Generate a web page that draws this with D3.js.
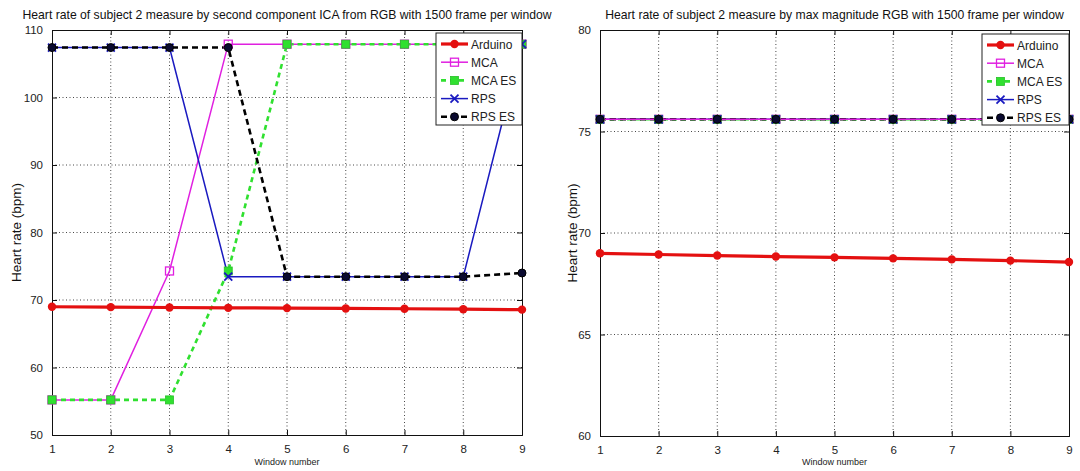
<!DOCTYPE html>
<html>
<head>
<meta charset="utf-8">
<script src="https://cdn.jsdelivr.net/npm/d3@7"></script>
<style>
  html, body { margin: 0; padding: 0; background: #fff; }
  svg { display: block; font-family: "Liberation Sans", Arial, sans-serif; }
</style>
</head>
<body>
<svg id="chart" width="1080" height="471"></svg>
<script>
// Window indices (x axis)
const windows = [1, 2, 3, 4, 5, 6, 7, 8, 9];

// Reference heart rate from the Arduino sensor (same for both panels)
const arduinoHR = [69.0, 68.94, 68.89, 68.84, 68.80, 68.75, 68.70, 68.64, 68.57];

// Panel 1: second component ICA
const icaMCA   = [55.2, 55.2, 74.3, 107.9, 107.9, 107.9, 107.9, 107.9, 107.9];
const icaMCAES = [55.2, 55.2, 55.2, 74.3, 107.9, 107.9, 107.9, 107.9, 107.9];
const icaRPS   = [107.4, 107.4, 107.4, 73.45, 73.45, 73.45, 73.45, 73.45, 107.9];
const icaRPSES = [107.4, 107.4, 107.4, 107.4, 73.45, 73.45, 73.45, 73.45, 74.0];

// Panel 2: max magnitude RGB
const magMCA   = [75.6, 75.6, 75.6, 75.6, 75.6, 75.6, 75.6, 75.6, 75.6];
const magMCAES = [75.6, 75.6, 75.6, 75.6, 75.6, 75.6, 75.6, 75.6, 75.6];
const magRPS   = [75.6, 75.6, 75.6, 75.6, 75.6, 75.6, 75.6, 75.6, 75.6];
const magRPSES = [75.6, 75.6, 75.6, 75.6, 75.6, 75.6, 75.6, 75.6, 75.6];

// Tick values
const icaYTicks = [50, 60, 70, 80, 90, 100, 110];
const magYTicks = [60, 65, 70, 75, 80];

const seriesNames = ["Arduino", "MCA", "MCA ES", "RPS", "RPS ES"];

// Styles per series
const styles = {
  "Arduino": { color: "#e41010", width: 3.2, dash: null, marker: "dot", mcolor: "#e41010" },
  "MCA":     { color: "#e020e0", width: 1.5, dash: null, marker: "osquare", mcolor: "#e020e0" },
  "MCA ES":  { color: "#30e030", width: 2.6, dash: "5,4", marker: "fsquare", mcolor: "#30e030" },
  "RPS":     { color: "#1a1ac0", width: 1.5, dash: null, marker: "cross", mcolor: "#1a1ac0" },
  "RPS ES":  { color: "#000000", width: 2.6, dash: "6,4", marker: "fdot", mcolor: "#000000" }
};

const svg = d3.select("#chart");

function drawMarker(g, kind, cx, cy, col) {
  if (kind === "dot") {
    g.append("circle").attr("cx", cx).attr("cy", cy).attr("r", 4.2).attr("fill", col);
  } else if (kind === "fdot") {
    g.append("circle").attr("cx", cx).attr("cy", cy).attr("r", 4).attr("fill", "#0a0a30")
      .attr("stroke", "#000").attr("stroke-width", 1);
  } else if (kind === "osquare") {
    g.append("rect").attr("x", cx - 4).attr("y", cy - 4).attr("width", 8).attr("height", 8)
      .attr("fill", "none").attr("stroke", col).attr("stroke-width", 1.3);
  } else if (kind === "fsquare") {
    g.append("rect").attr("x", cx - 4).attr("y", cy - 4).attr("width", 8).attr("height", 8)
      .attr("fill", col).attr("stroke", "#28c028").attr("stroke-width", 0.8);
  } else if (kind === "cross") {
    g.append("path").attr("d", `M${cx - 4},${cy - 4}L${cx + 4},${cy + 4}M${cx - 4},${cy + 4}L${cx + 4},${cy - 4}`)
      .attr("stroke", col).attr("stroke-width", 1.8).attr("fill", "none");
  }
}

function drawPanel(cfg) {
  const { left, right, top, bottom, yDomain, yTicks, title, data, lineOrder, markerOrder, legend, yLabelX } = cfg;
  const x = d3.scaleLinear().domain([1, 9]).range([left, right]);
  const y = d3.scaleLinear().domain(yDomain).range([bottom, top]);
  const g = svg.append("g");

  // dotted grid
  const grid = g.append("g").attr("stroke", "#333").attr("stroke-width", 0.9)
    .attr("stroke-dasharray", "1,2.5");
  windows.slice(1, -1).forEach(w => {
    grid.append("line").attr("x1", x(w)).attr("x2", x(w)).attr("y1", top).attr("y2", bottom);
  });
  yTicks.slice(1, -1).forEach(t => {
    grid.append("line").attr("x1", left).attr("x2", right).attr("y1", y(t)).attr("y2", y(t));
  });

  // axes (MATLAB-style inward ticks)
  const axB = d3.axisBottom(x).tickValues(windows).tickSize(-5).tickPadding(10).tickFormat(d3.format("d"));
  const axT = d3.axisTop(x).tickValues(windows).tickSize(-5).tickFormat("");
  const axL = d3.axisLeft(y).tickValues(yTicks).tickSize(-5).tickPadding(9).tickFormat(d3.format("d"));
  const axR = d3.axisRight(y).tickValues(yTicks).tickSize(-5).tickFormat("");
  [[axB, `translate(0,${bottom})`], [axT, `translate(0,${top})`],
   [axL, `translate(${left},0)`], [axR, `translate(${right},0)`]].forEach(([ax, tr]) => {
    const a = g.append("g").attr("transform", tr).call(ax);
    a.select(".domain").attr("stroke", "#111").attr("stroke-width", 1);
    a.selectAll(".tick line").attr("stroke", "#111");
    a.selectAll("text").attr("font-size", 11.5).attr("fill", "#222")
      .attr("font-family", "'Liberation Sans', Arial, sans-serif");
  });

  // series lines
  const line = d3.line().x((d, i) => x(windows[i])).y(d => y(d));
  lineOrder.forEach(name => {
    const st = styles[name];
    g.append("path").datum(data[name]).attr("d", line).attr("fill", "none")
      .attr("stroke", st.color).attr("stroke-width", st.width)
      .attr("stroke-dasharray", st.dash).attr("stroke-linejoin", "round");
  });
  // series markers
  markerOrder.forEach(name => {
    const st = styles[name];
    const mg = g.append("g");
    data[name].forEach((v, i) => drawMarker(mg, st.marker, x(windows[i]), y(v), st.mcolor));
  });

  // title and axis labels
  g.append("text").attr("x", (left + right) / 2).attr("y", 19).attr("text-anchor", "middle")
    .attr("font-size", 12.2).attr("fill", "#111").text(title);
  g.append("text").attr("x", (left + right) / 2).attr("y", 465).attr("text-anchor", "middle")
    .attr("font-size", 9).attr("fill", "#222").text("Window number");
  const yMid = (top + bottom) / 2;
  g.append("text").attr("transform", `translate(${yLabelX},${yMid}) rotate(-90)`)
    .attr("text-anchor", "middle").attr("font-size", 13.5).attr("fill", "#111").text("Heart rate (bpm)");

  // legend
  const lg = g.append("g");
  lg.append("rect").attr("x", legend.x).attr("y", legend.y).attr("width", legend.w).attr("height", legend.h)
    .attr("fill", "#fff").attr("stroke", "#222").attr("stroke-width", 1);
  seriesNames.forEach((name, i) => {
    const st = styles[name];
    const ly = legend.y + 11 + i * 18.2;
    const x0 = legend.x + 5, x1 = legend.x + 32;
    lg.append("line").attr("x1", x0).attr("x2", x1).attr("y1", ly).attr("y2", ly)
      .attr("stroke", st.color).attr("stroke-width", st.width).attr("stroke-dasharray", st.dash);
    drawMarker(lg, st.marker, (x0 + x1) / 2, ly, st.mcolor);
    lg.append("text").attr("x", legend.x + 35).attr("y", ly + 4.5).attr("font-size", 12)
      .attr("fill", "#222").text(name);
  });
}

drawPanel({
  left: 52, right: 522, top: 30, bottom: 435,
  yDomain: [50, 110], yTicks: icaYTicks, yLabelX: 21,
  title: "Heart rate of subject 2 measure by second component ICA from RGB with 1500 frame per window",
  data: { "Arduino": arduinoHR, "MCA": icaMCA, "MCA ES": icaMCAES, "RPS": icaRPS, "RPS ES": icaRPSES },
  lineOrder: ["MCA", "MCA ES", "RPS", "RPS ES", "Arduino"],
  markerOrder: ["MCA", "MCA ES", "RPS", "RPS ES", "Arduino"],
  legend: { x: 436, y: 33, w: 86, h: 92 }
});

drawPanel({
  left: 600, right: 1069, top: 30, bottom: 436,
  yDomain: [60, 80], yTicks: magYTicks, yLabelX: 577,
  title: "Heart rate of subject 2 measure by max magnitude RGB with 1500 frame per window",
  data: { "Arduino": arduinoHR, "MCA": magMCA, "MCA ES": magMCAES, "RPS": magRPS, "RPS ES": magRPSES },
  lineOrder: ["MCA ES", "RPS", "RPS ES", "MCA", "Arduino"],
  markerOrder: ["MCA", "MCA ES", "RPS", "RPS ES", "Arduino"],
  legend: { x: 982, y: 34, w: 87, h: 91 }
});
</script>
</body>
</html>
